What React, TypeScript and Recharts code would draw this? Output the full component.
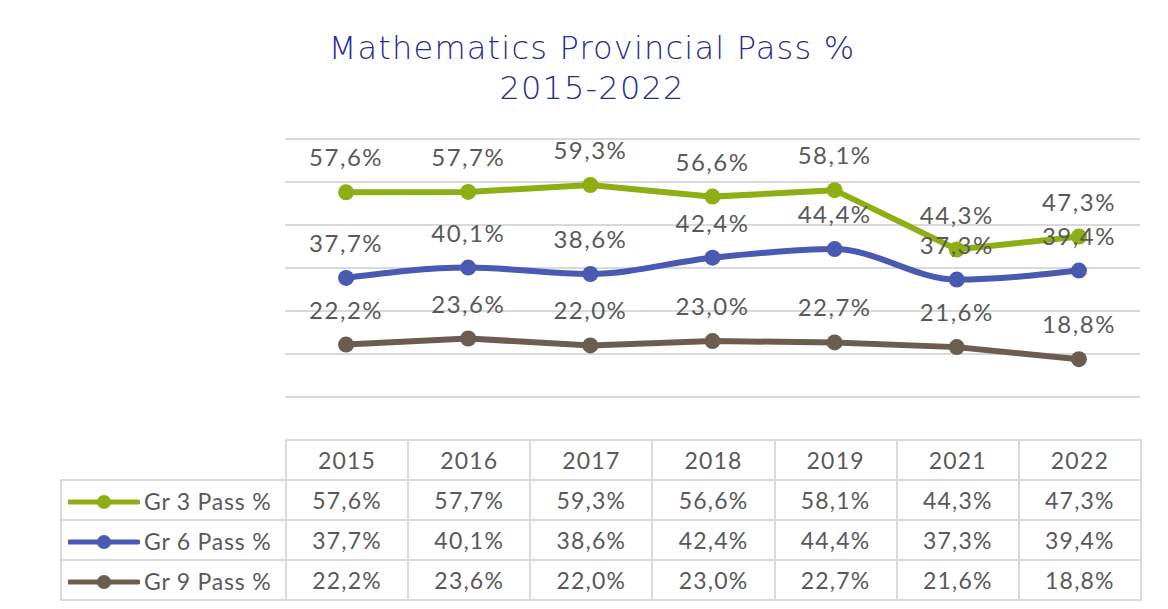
import React from "react";
import { LineChart, Line, XAxis, YAxis, CartesianGrid, LabelList } from "recharts";

const years = ["2015", "2016", "2017", "2018", "2019", "2021", "2022"];
const gr3 = [57.6, 57.7, 59.3, 56.6, 58.1, 44.3, 47.3];
const gr6 = [37.7, 40.1, 38.6, 42.4, 44.4, 37.3, 39.4];
const gr9 = [22.2, 23.6, 22.0, 23.0, 22.7, 21.6, 18.8];
const yTicks = [0, 10, 20, 30, 40, 50, 60, 70];

const series = [
  { key: "gr3", name: "Gr 3 Pass %", values: gr3, color: "#8DAF14", type: "linear" },
  { key: "gr6", name: "Gr 6 Pass %", values: gr6, color: "#4A59B1", type: "monotone" },
  { key: "gr9", name: "Gr 9 Pass %", values: gr9, color: "#6B5E51", type: "linear" },
];

const data = years.map((y, i) => ({ year: y, gr3: gr3[i], gr6: gr6[i], gr9: gr9[i] }));

const fmt = (v: number) => v.toFixed(1).replace(".", ",") + "%";

const FONT = "Lato, 'Noto Sans', sans-serif";
const plotLeft = 285;
const plotRight = 1140;
const colW = (plotRight - plotLeft) / years.length;

const renderLabel = (props: any) => {
  const { x, y, value } = props;
  return (
    <text x={x} y={y - 26} textAnchor="middle" fill="#595959" fontSize={24} letterSpacing={1.5} fontFamily={FONT}>
      {fmt(value)}
    </text>
  );
};

const cell: React.CSSProperties = {
  border: "2px solid #dadada",
  textAlign: "center",
  padding: 0,
  height: 38,
  color: "#595959",
  fontSize: 23,
  letterSpacing: 1.2,
};

export default function App() {
  return (
    <div style={{ position: "relative", width: 1168, height: 609, margin: -8, background: "#fff", overflow: "hidden", fontFamily: FONT }}>
      <div style={{ position: "absolute", left: 5, top: 6, width: 1200, height: 700, borderLeft: "2px solid #e0e0e0", borderTop: "2px solid #e0e0e0" }} />
      <div style={{ position: "absolute", left: 0, width: 1184, top: 28, textAlign: "center", color: "#1F2D93", fontSize: 32, lineHeight: "40px", letterSpacing: 1.2, fontFamily: "'DejaVu Sans', sans-serif", fontWeight: 200 }}>
        Mathematics Provincial Pass %<br />2015-2022
      </div>
      <div style={{ position: "absolute", left: 0, top: 0 }}>
        <LineChart width={1168} height={460} data={data} margin={{ top: 139, left: plotLeft, right: 1168 - plotRight, bottom: 20 }}>
          <CartesianGrid vertical={false} stroke="#d9d9d9" strokeWidth={2} />
          <XAxis dataKey="year" hide padding={{ left: colW / 2, right: colW / 2 }} />
          <YAxis hide domain={[0, 70]} ticks={yTicks} width={0} />
          {series.map((s) => (
            <Line
              key={s.key}
              type={s.type as any}
              dataKey={s.key}
              stroke={s.color}
              strokeWidth={6}
              dot={{ r: 8, fill: s.color, stroke: s.color, strokeWidth: 0 }}
              isAnimationActive={false}
            >
              <LabelList dataKey={s.key} content={renderLabel} />
            </Line>
          ))}
        </LineChart>
      </div>
      <table style={{ position: "absolute", left: 60, top: 439, borderCollapse: "collapse", tableLayout: "fixed", fontFamily: FONT }}>
        <colgroup>
          <col style={{ width: plotLeft - 60 }} />
          {years.map((y) => (
            <col key={y} style={{ width: colW }} />
          ))}
        </colgroup>
        <tbody>
          <tr>
            <td style={{ ...cell, border: "none", borderBottom: "2px solid #dadada" }} />
            {years.map((y) => (
              <td key={y} style={cell}>{y}</td>
            ))}
          </tr>
          {series.map((s) => (
            <tr key={s.key}>
              <td style={{ ...cell, textAlign: "left", whiteSpace: "nowrap", letterSpacing: 0.8 }}>
                <svg width={72} height={16} style={{ verticalAlign: "middle", marginLeft: 6, marginRight: 4 }}>
                  <line x1={1} y1={8} x2={70} y2={8} stroke={s.color} strokeWidth={5} strokeLinecap="round" />
                  <circle cx={36} cy={8} r={7} fill={s.color} />
                </svg>
                <span style={{ verticalAlign: "middle" }}>{s.name}</span>
              </td>
              {s.values.map((v, i) => (
                <td key={i} style={cell}>{fmt(v)}</td>
              ))}
            </tr>
          ))}
        </tbody>
      </table>
    </div>
  );
}
